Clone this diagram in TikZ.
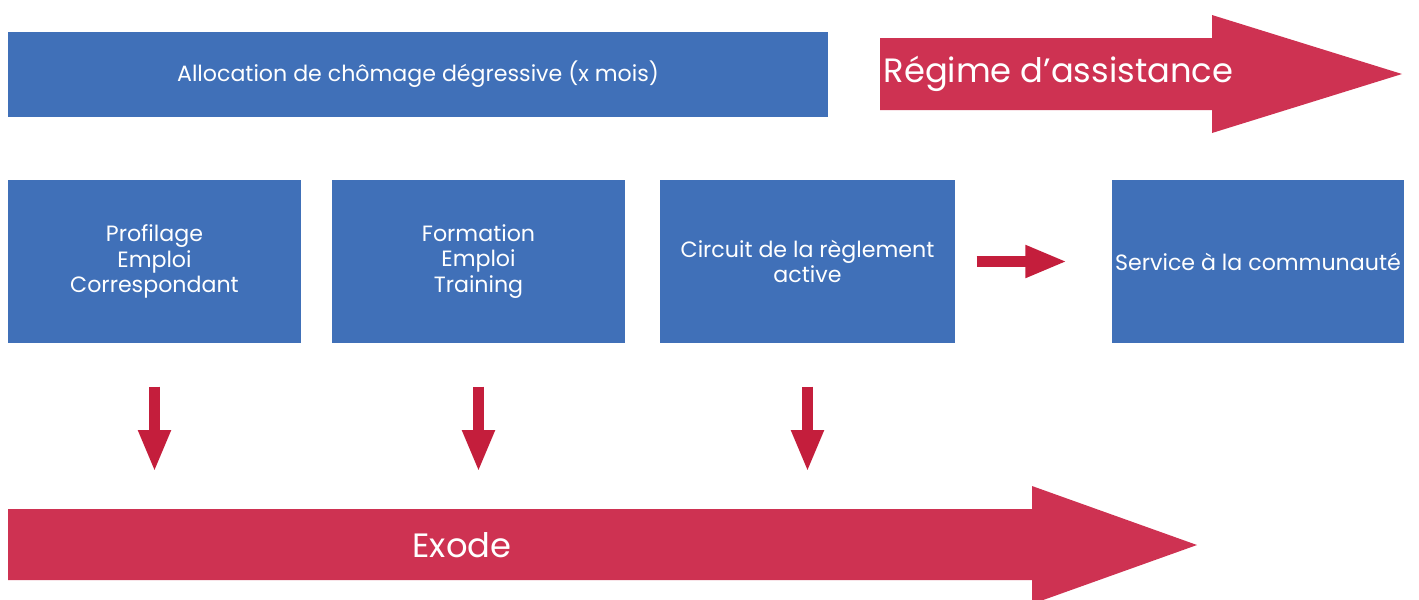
\documentclass[tikz,border=0pt]{standalone}
\usepackage{fontspec}
\setmainfont{Poppins}
\usetikzlibrary{arrows.meta}
\definecolor{boxblue}{HTML}{4070B8}
\definecolor{bigred}{HTML}{CE3252}
\definecolor{arrred}{HTML}{C41E3C}
\tikzset{
	bluebox/.style={fill=boxblue, text=white, minimum height=1.63cm, align=center, inner sep=0pt, font=\fontsize{6.3}{7.3}\selectfont},
	redpush/.style={draw=arrred, line width=1.1mm, -{Triangle[width=3mm,length=4.2mm]}},
	bigtext/.style={text=white, inner sep=0pt, font=\fontsize{9.6}{11}\selectfont}
}
\begin{document}
\begin{tikzpicture}
		%%%%% START %%%%%
		\useasboundingbox (0, 0) rectangle (14.19, 5.99);
		
		\node[bluebox, minimum width=8.2cm, minimum height=0.85cm] (alloc) at (4.18, 5.245) {Allocation de chômage dégressive (x mois)};
		
		\fill[bigred] (8.80, 4.89) -- (12.12, 4.89) -- (12.12, 4.66) -- (14.02, 5.25) -- (12.12, 5.84) -- (12.12, 5.61) -- (8.80, 5.61) -- cycle;
		\node[bigtext, anchor=west] (regime) at (8.83, 5.25) {Régime d’assistance};
		
		\node[bluebox, minimum width=2.93cm] (profil) at (1.545, 3.375) {Profilage\\Emploi\\Correspondant};
		\node[bluebox, minimum width=2.93cm] (forma) at (4.785, 3.375) {Formation\\Emploi\\Training};
		\node[bluebox, minimum width=2.95cm] (circuit) at (8.075, 3.375) {Circuit de la règlement\\active};
		\node[bluebox, minimum width=2.92cm] (service) at (12.58, 3.375) {Service à la communauté};
		
		\draw[redpush, shorten <=0.21cm, shorten >=0.44cm] (circuit.east) -- (service.west);
		
		\fill[bigred] (0.08, 0.19) -- (10.32, 0.19) -- (10.32, -0.05) -- (11.97, 0.54) -- (10.32, 1.13) -- (10.32, 0.90) -- (0.08, 0.90) -- cycle;
		\coordinate (exodetop) at (0.08, 0.90);
		\node[bigtext] (exode) at (4.62, 0.54) {Exode};
		
		\foreach \b in {profil, forma, circuit}
			\draw[redpush, shorten <=0.43cm, shorten >=0.37cm] (\b.south) -- (\b.south |- exodetop);
		
		%%%%% END %%%%%
	\end{tikzpicture}
\end{document}
